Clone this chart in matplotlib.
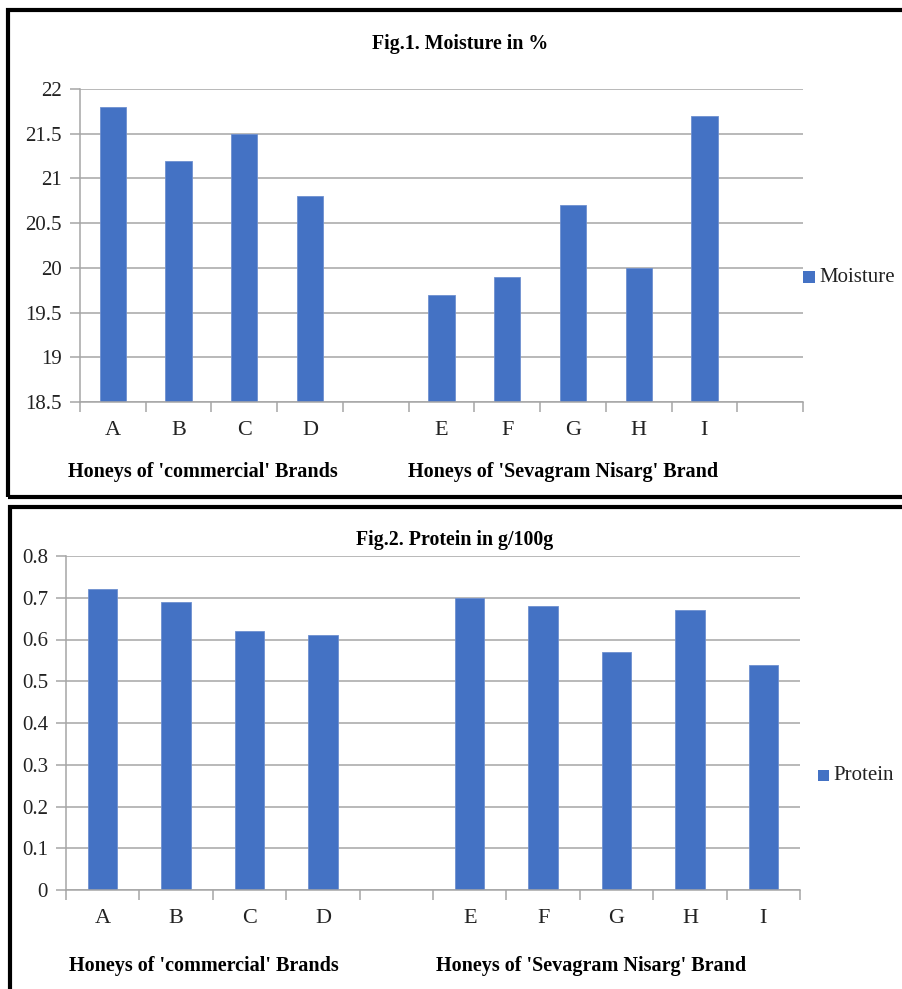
import numpy as np
import matplotlib.pyplot as plt
from matplotlib.patches import Rectangle

plt.rcParams['font.family'] = ['Liberation Serif', 'DejaVu Serif']

# honey samples: A-D commercial brands, E-I Sevagram Nisarg
samples = ['A', 'B', 'C', 'D', 'E', 'F', 'G', 'H', 'I']
slots = [0, 1, 2, 3, 5, 6, 7, 8, 9]
moisture = [21.8, 21.2, 21.5, 20.8, 19.7, 19.9, 20.7, 20.0, 21.7]
protein = [0.72, 0.69, 0.62, 0.61, 0.70, 0.68, 0.57, 0.67, 0.54]

moist_ticks = [18.5, 19, 19.5, 20, 20.5, 21, 21.5, 22]
moist_ticklabels = ['18.5', '19', '19.5', '20', '20.5', '21', '21.5', '22']
prot_ticks = [0, 0.1, 0.2, 0.3, 0.4, 0.5, 0.6, 0.7, 0.8]
prot_ticklabels = ['0', '0.1', '0.2', '0.3', '0.4', '0.5', '0.6', '0.7', '0.8']

group1 = "Honeys of 'commercial' Brands"
group2 = "Honeys of 'Sevagram Nisarg' Brand"

BAR = '#4472C4'
GRID = '#A6A6A6'
TXT = '#222222'
W, H = 902, 989

fig = plt.figure(figsize=(W / 100, H / 100), dpi=100)


def px_ax(left, top, right, bottom):
    return fig.add_axes([left / W, 1 - bottom / H, (right - left) / W, (bottom - top) / H])


def style(ax, nslots, yticks, ylabels, ylim):
    ax.set_xlim(-0.5, nslots - 0.5)
    ax.set_ylim(*ylim)
    ax.set_yticks(yticks)
    ax.set_yticklabels(ylabels, fontsize=15, color=TXT, family='Liberation Serif')
    ax.yaxis.grid(True, color=GRID, lw=1.1)
    ax.set_axisbelow(True)
    for s in ['top', 'right']:
        ax.spines[s].set_visible(False)
    for s in ['left', 'bottom']:
        ax.spines[s].set_color(GRID)
        ax.spines[s].set_linewidth(1.1)
    ax.set_xticks(slots)
    ax.set_xticklabels(samples, fontsize=16, color=TXT, family='Liberation Serif')
    ax.tick_params(axis='x', which='major', length=0, pad=14)
    ax.set_xticks(np.arange(-0.5, nslots, 1.0), minor=True)
    ax.tick_params(axis='x', which='minor', length=7, color=GRID, width=1.1)
    ax.tick_params(axis='y', length=7, color=GRID, width=1.1, pad=6)


def legend_item(x, y, size, label, fs):
    fig.add_artist(Rectangle((x / W, 1 - (y + size / 2) / H), size / W, size / H,
                             facecolor=BAR, edgecolor='none', transform=fig.transFigure))
    fig.text((x + size + 4) / W, 1 - y / H, label, fontsize=fs, va='center', ha='left',
             color=TXT)


# Fig.1 moisture
ax1 = px_ax(80, 89, 803, 402)
ax1.bar(slots, moisture, width=0.4, color=BAR, edgecolor='#6E90D0', linewidth=0.6)
style(ax1, 11, moist_ticks, moist_ticklabels, (18.5, 22))
fig.text(460 / W, 1 - 44 / H, 'Fig.1. Moisture in %', fontsize=14.3, fontweight='bold',
         ha='center', va='center')
fig.text(203 / W, 1 - 472 / H, group1, fontsize=14.5, fontweight='bold', ha='center', va='center')
fig.text(563 / W, 1 - 472 / H, group2, fontsize=14.5, fontweight='bold', ha='center', va='center')
legend_item(803, 277, 12, 'Moisture', 15)

# Fig.2 protein
ax2 = px_ax(66, 556, 800, 890)
ax2.bar(slots, protein, width=0.4, color=BAR, edgecolor='#6E90D0', linewidth=0.6)
style(ax2, 10, prot_ticks, prot_ticklabels, (0, 0.8))
fig.text(455 / W, 1 - 540 / H, 'Fig.2. Protein in g/100g', fontsize=14.3, fontweight='bold',
         ha='center', va='center')
fig.text(204 / W, 1 - 966 / H, group1, fontsize=14.5, fontweight='bold', ha='center', va='center')
fig.text(591 / W, 1 - 966 / H, group2, fontsize=14.5, fontweight='bold', ha='center', va='center')
legend_item(818, 775, 11, 'Protein', 15)

# black frames around both charts
fig.add_artist(Rectangle((8 / W, 1 - 497 / H), 1.0, (497 - 10) / H, fill=False,
                         edgecolor='black', lw=3, transform=fig.transFigure, clip_on=False))
fig.add_artist(Rectangle((9.5 / W, -0.1), 1.0, 0.1 + 1 - 507 / H, fill=False,
                         edgecolor='black', lw=3, transform=fig.transFigure, clip_on=False))

fig.savefig('out.png', dpi=100)
